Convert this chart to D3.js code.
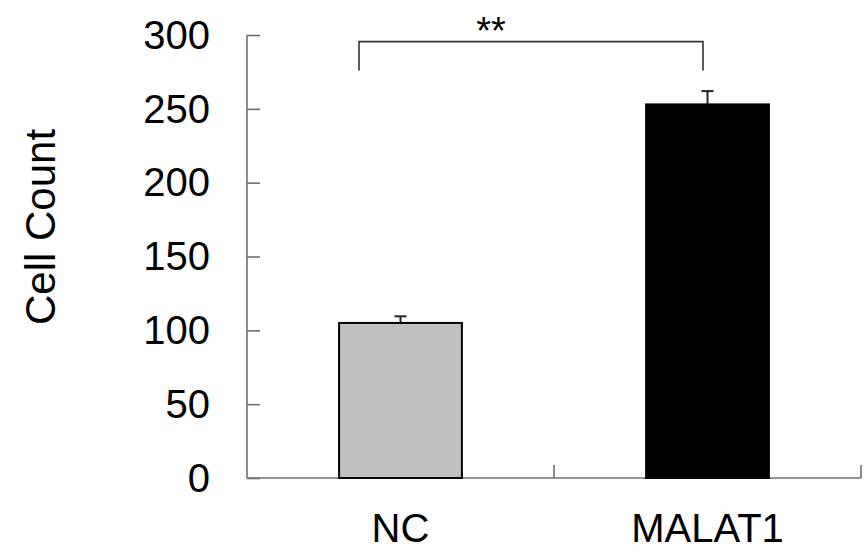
<!DOCTYPE html>
<html>
<head>
<meta charset="utf-8">
<script src="https://cdn.jsdelivr.net/npm/d3@7"></script>
<style>
  html, body { margin: 0; padding: 0; background: #fff; }
  svg { display: block; font-family: "Liberation Sans", Arial, sans-serif; }
</style>
</head>
<body>
<svg id="chart" width="866" height="554"></svg>
<script>
const categories = ["NC", "MALAT1"];
const values = [105, 253];
const errors = [4.5, 9];
const barColors = ["#c0c0c0", "#000000"];
const yTicks = [0, 50, 100, 150, 200, 250, 300];
const yLabel = "Cell Count";
const sigLabel = "**";
const bracketTop = 295.5;
const bracketBottom = 276;

const svg = d3.select("#chart");
const y = d3.scaleLinear().domain([0, 300]).range([478, 35]);
const x = d3.scaleBand().domain(categories).range([247, 861]).padding(0);
const bw = x.bandwidth() * 0.4;
const cx = c => x(c) + x.bandwidth() / 2;
const axisColor = "#707070";

// Y axis
const yAxis = d3.axisLeft(y).tickValues(yTicks).tickSize(-13).tickPadding(37).tickFormat(d3.format("d"));
const gy = svg.append("g").attr("transform", "translate(247,0)").call(yAxis);
gy.select(".domain").attr("stroke", axisColor).attr("stroke-width", 1.6).attr("d", `M0,${y(300)}V${y(0)}`);
gy.selectAll(".tick line").attr("stroke", axisColor).attr("stroke-width", 1.6);
gy.selectAll(".tick text").attr("font-size", 40).attr("fill", "#000")
  .attr("font-family", "Liberation Sans, Arial, sans-serif").attr("dy", "0.33em");

// X axis line
svg.append("line").attr("x1", 247).attr("x2", 861).attr("y1", y(0)).attr("y2", y(0))
  .attr("stroke", axisColor).attr("stroke-width", 1.6);
const bounds = categories.map(c => x(c)).concat([x.range()[1]]).slice(1);
svg.selectAll(".xtick").data(bounds).enter().append("line")
  .attr("x1", d => d).attr("x2", d => d).attr("y1", y(0)).attr("y2", y(0) - 13)
  .attr("stroke", axisColor).attr("stroke-width", 1.6);

// X labels
svg.selectAll(".xlab").data(categories).enter().append("text")
  .attr("x", d => cx(d)).attr("y", 542).attr("text-anchor", "middle")
  .attr("font-size", 40).attr("fill", "#000").text(d => d);

// Y label
svg.append("text").attr("transform", "translate(55,227) rotate(-90)")
  .attr("text-anchor", "middle").attr("font-size", 42).attr("fill", "#000").text(yLabel);

// Error bars (drawn before bars)
const eb = svg.append("g");
categories.forEach((c, i) => {
  eb.append("line").attr("x1", cx(c)).attr("x2", cx(c))
    .attr("y1", y(values[i])).attr("y2", y(values[i] + errors[i]))
    .attr("stroke", "#222").attr("stroke-width", 2);
  eb.append("line").attr("x1", cx(c) - 6).attr("x2", cx(c) + 6)
    .attr("y1", y(values[i] + errors[i])).attr("y2", y(values[i] + errors[i]))
    .attr("stroke", "#222").attr("stroke-width", 2);
});

// Bars
svg.selectAll(".bar").data(categories).enter().append("rect")
  .attr("x", d => cx(d) - bw / 2).attr("width", bw)
  .attr("y", (d, i) => y(values[i])).attr("height", (d, i) => y(0) - y(values[i]))
  .attr("fill", (d, i) => barColors[i]).attr("stroke", "#000").attr("stroke-width", 2);

// Significance bracket
const bx1 = cx(categories[0]) - 41.5;
const bx2 = cx(categories[1]) - 4.5;
svg.append("path")
  .attr("d", `M${bx1},${y(bracketBottom)}V${y(bracketTop)}H${bx2}V${y(bracketBottom)}`)
  .attr("fill", "none").attr("stroke", "#333").attr("stroke-width", 1.6);
svg.append("text").attr("x", (bx1 + bx2) / 2 - 40).attr("y", 44).attr("text-anchor", "middle")
  .attr("font-size", 38).attr("fill", "#000").text(sigLabel);
</script>
</body>
</html>
